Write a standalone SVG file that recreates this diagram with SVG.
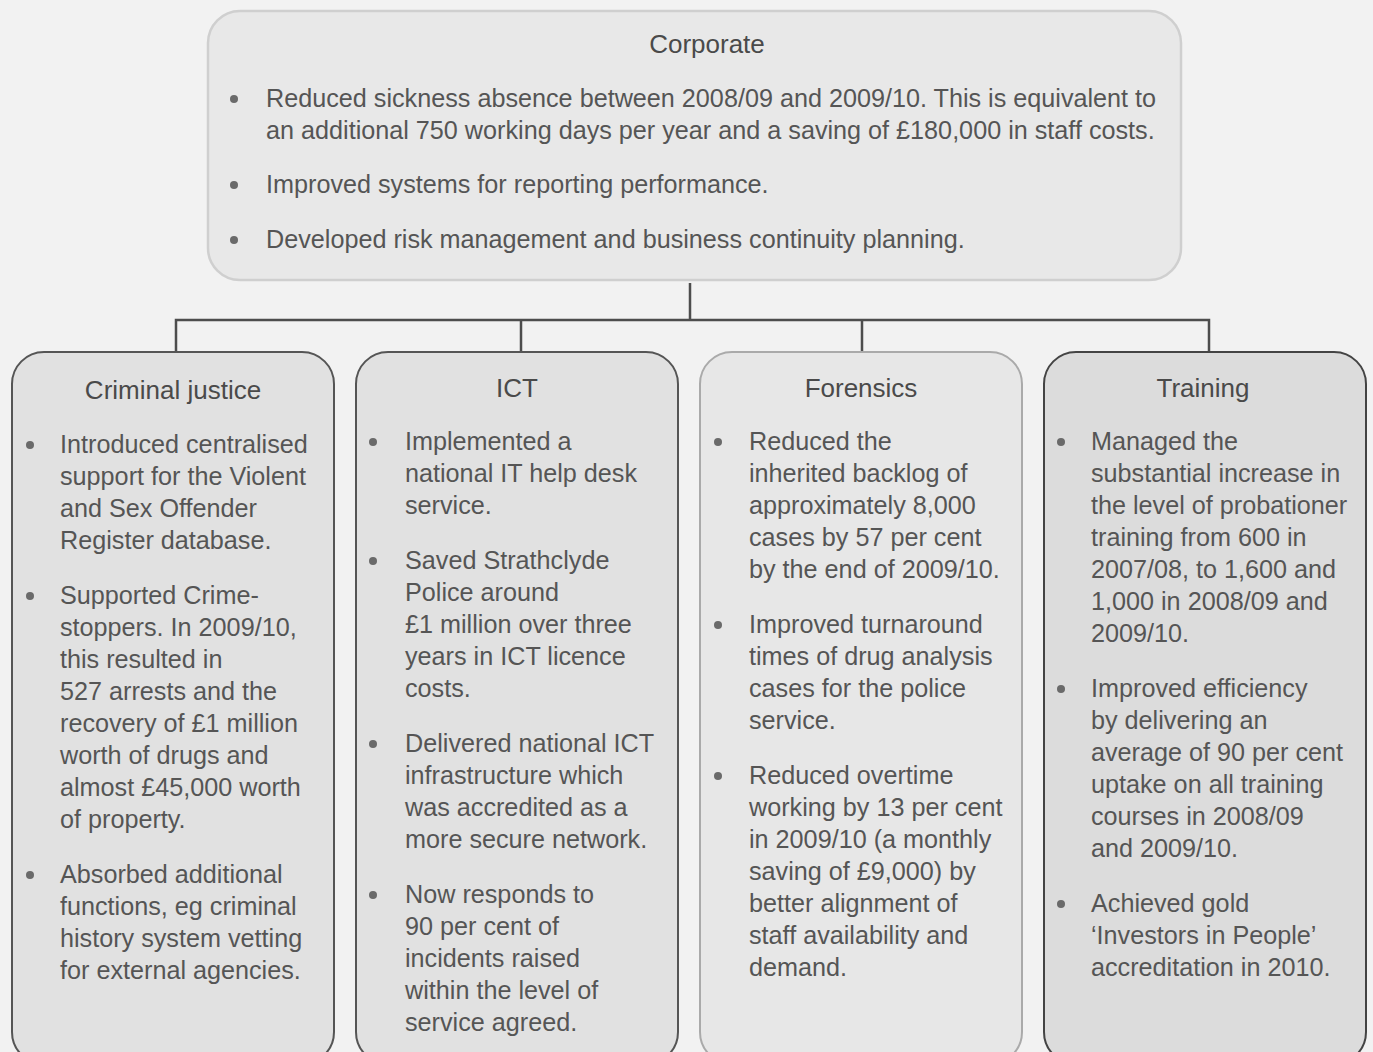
<svg xmlns="http://www.w3.org/2000/svg" width="1373" height="1052" viewBox="0 0 1373 1052">
<style>
.t{font-family:"Liberation Sans",Arial,sans-serif;font-size:26px;fill:#4a4a4a;text-anchor:middle}
.b{font-family:"Liberation Sans",Arial,sans-serif;font-size:25.2px;fill:#555}
.dot{fill:#6a6a6a}
.con{stroke:#4d4d4d;stroke-width:2.5;fill:none}
</style>
<rect width="1373" height="1052" fill="#f2f2f2"/>
<g id="connectors">
<path class="con" d="M690 283V320M176 352V320H1209V352M521 320V352M862 320V352"/>
</g>
<g id="corporate">
<rect x="208" y="11" width="973" height="269" rx="32" fill="#e8e8e8" stroke="#cfcfcf" stroke-width="2.5"/>
<text class="t" x="707" y="53">Corporate</text>
<circle class="dot" cx="234" cy="99" r="4"/>
<text class="b" x="266" y="107">Reduced sickness absence between 2008/09 and 2009/10. This is equivalent to</text>
<text class="b" x="266" y="139">an additional 750 working days per year and a saving of £180,000 in staff costs.</text>
<circle class="dot" cx="234" cy="185" r="4"/>
<text class="b" x="266" y="193">Improved systems for reporting performance.</text>
<circle class="dot" cx="234" cy="240" r="4"/>
<text class="b" x="266" y="248">Developed risk management and business continuity planning.</text>
</g>
<g id="criminal-justice">
<rect x="12" y="352" width="322" height="712" rx="32" fill="#e1e1e1" stroke="#555" stroke-width="2"/>
<text class="t" x="173" y="399">Criminal justice</text>
<circle class="dot" cx="30" cy="445" r="4"/>
<text class="b" x="60" y="453">Introduced centralised</text>
<text class="b" x="60" y="485">support for the Violent</text>
<text class="b" x="60" y="517">and Sex Offender</text>
<text class="b" x="60" y="549">Register database.</text>
<circle class="dot" cx="30" cy="596" r="4"/>
<text class="b" x="60" y="604">Supported Crime-</text>
<text class="b" x="60" y="636">stoppers. In 2009/10,</text>
<text class="b" x="60" y="668">this resulted in</text>
<text class="b" x="60" y="700">527 arrests and the</text>
<text class="b" x="60" y="732">recovery of £1 million</text>
<text class="b" x="60" y="764">worth of drugs and</text>
<text class="b" x="60" y="796">almost £45,000 worth</text>
<text class="b" x="60" y="828">of property.</text>
<circle class="dot" cx="30" cy="875" r="4"/>
<text class="b" x="60" y="883">Absorbed additional</text>
<text class="b" x="60" y="915">functions, eg criminal</text>
<text class="b" x="60" y="947">history system vetting</text>
<text class="b" x="60" y="979">for external agencies.</text>
</g>
<g id="ict">
<rect x="356" y="352" width="322" height="712" rx="32" fill="#e1e1e1" stroke="#555" stroke-width="2"/>
<text class="t" x="517" y="397">ICT</text>
<circle class="dot" cx="373" cy="442" r="4"/>
<text class="b" x="405" y="450">Implemented a</text>
<text class="b" x="405" y="482">national IT help desk</text>
<text class="b" x="405" y="514">service.</text>
<circle class="dot" cx="373" cy="561" r="4"/>
<text class="b" x="405" y="569">Saved Strathclyde</text>
<text class="b" x="405" y="601">Police around</text>
<text class="b" x="405" y="633">£1 million over three</text>
<text class="b" x="405" y="665">years in ICT licence</text>
<text class="b" x="405" y="697">costs.</text>
<circle class="dot" cx="373" cy="744" r="4"/>
<text class="b" x="405" y="752">Delivered national ICT</text>
<text class="b" x="405" y="784">infrastructure which</text>
<text class="b" x="405" y="816">was accredited as a</text>
<text class="b" x="405" y="848">more secure network.</text>
<circle class="dot" cx="373" cy="895" r="4"/>
<text class="b" x="405" y="903">Now responds to</text>
<text class="b" x="405" y="935">90 per cent of</text>
<text class="b" x="405" y="967">incidents raised</text>
<text class="b" x="405" y="999">within the level of</text>
<text class="b" x="405" y="1031">service agreed.</text>
</g>
<g id="forensics">
<rect x="700" y="352" width="322" height="712" rx="32" fill="#e7e7e7" stroke="#aaa" stroke-width="2"/>
<text class="t" x="861" y="397">Forensics</text>
<circle class="dot" cx="718" cy="442" r="4"/>
<text class="b" x="749" y="450">Reduced the</text>
<text class="b" x="749" y="482">inherited backlog of</text>
<text class="b" x="749" y="514">approximately 8,000</text>
<text class="b" x="749" y="546">cases by 57 per cent</text>
<text class="b" x="749" y="578">by the end of 2009/10.</text>
<circle class="dot" cx="718" cy="625" r="4"/>
<text class="b" x="749" y="633">Improved turnaround</text>
<text class="b" x="749" y="665">times of drug analysis</text>
<text class="b" x="749" y="697">cases for the police</text>
<text class="b" x="749" y="729">service.</text>
<circle class="dot" cx="718" cy="776" r="4"/>
<text class="b" x="749" y="784">Reduced overtime</text>
<text class="b" x="749" y="816">working by 13 per cent</text>
<text class="b" x="749" y="848">in 2009/10 (a monthly</text>
<text class="b" x="749" y="880">saving of £9,000) by</text>
<text class="b" x="749" y="912">better alignment of</text>
<text class="b" x="749" y="944">staff availability and</text>
<text class="b" x="749" y="976">demand.</text>
</g>
<g id="training">
<rect x="1044" y="352" width="322" height="712" rx="32" fill="#dcdcdc" stroke="#444" stroke-width="2"/>
<text class="t" x="1203" y="397">Training</text>
<circle class="dot" cx="1061" cy="442" r="4"/>
<text class="b" x="1091" y="450">Managed the</text>
<text class="b" x="1091" y="482">substantial increase in</text>
<text class="b" x="1091" y="514">the level of probationer</text>
<text class="b" x="1091" y="546">training from 600 in</text>
<text class="b" x="1091" y="578">2007/08, to 1,600 and</text>
<text class="b" x="1091" y="610">1,000 in 2008/09 and</text>
<text class="b" x="1091" y="642">2009/10.</text>
<circle class="dot" cx="1061" cy="689" r="4"/>
<text class="b" x="1091" y="697">Improved efficiency</text>
<text class="b" x="1091" y="729">by delivering an</text>
<text class="b" x="1091" y="761">average of 90 per cent</text>
<text class="b" x="1091" y="793">uptake on all training</text>
<text class="b" x="1091" y="825">courses in 2008/09</text>
<text class="b" x="1091" y="857">and 2009/10.</text>
<circle class="dot" cx="1061" cy="904" r="4"/>
<text class="b" x="1091" y="912">Achieved gold</text>
<text class="b" x="1091" y="944">‘Investors in People’</text>
<text class="b" x="1091" y="976">accreditation in 2010.</text>
</g>
</svg>
